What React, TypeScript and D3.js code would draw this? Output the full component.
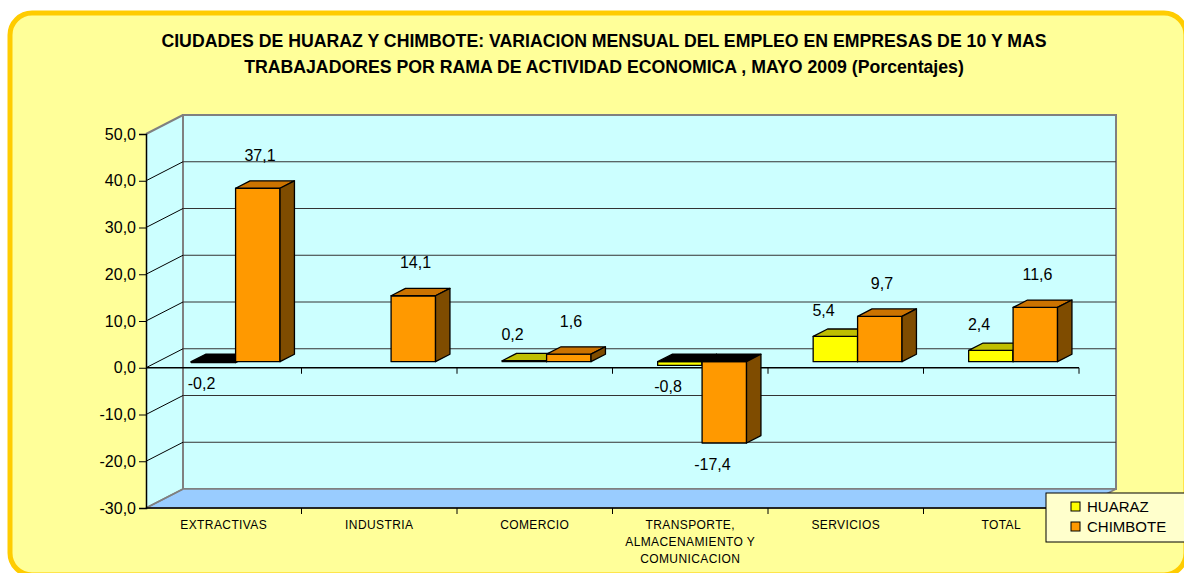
import React, { useEffect, useRef } from 'react';
import * as d3 from 'd3';

// data
const titleLines = [
  'CIUDADES DE HUARAZ Y CHIMBOTE: VARIACION MENSUAL DEL EMPLEO EN EMPRESAS DE 10 Y MAS',
  'TRABAJADORES POR RAMA DE ACTIVIDAD ECONOMICA , MAYO 2009 (Porcentajes)',
];
const categories = ['EXTRACTIVAS', 'INDUSTRIA', 'COMERCIO', 'TRANSPORTE', 'SERVICIOS', 'TOTAL'];
const categoryLabels = [
  ['EXTRACTIVAS'],
  ['INDUSTRIA'],
  ['COMERCIO'],
  ['TRANSPORTE,', 'ALMACENAMIENTO Y', 'COMUNICACION'],
  ['SERVICIOS'],
  ['TOTAL'],
];
const seriesNames = ['HUARAZ', 'CHIMBOTE'];
const huarazValues: (number | null)[] = [-0.2, null, 0.2, -0.8, 5.4, 2.4];
const chimboteValues: (number | null)[] = [37.1, 14.1, 1.6, -17.4, 9.7, 11.6];
const yTicks = [-30, -20, -10, 0, 10, 20, 30, 40, 50];

const FONT = '"Liberation Sans", Arial, sans-serif';

const colors: Record<string, { front: string; top: string; side: string; dx: number; dy: number }> = {
  HUARAZ: { front: '#FFFF00', top: '#BFBF00', side: '#999900', dx: 0, dy: -26 },
  CHIMBOTE: { front: '#FF9900', top: '#CC7300', side: '#7F4C00', dx: 14, dy: -33 },
};

// comma decimals, plain hyphen for negatives
const fmt = (v: number) => d3.format('.1f')(v).replace('.', ',').replace('\u2212', '-');

export default function App() {
  const svgRef = useRef<SVGSVGElement>(null);

  useEffect(() => {
    if (!svgRef.current) return;
    const svg = d3.select(svgRef.current);
    svg.selectAll('*').remove();

    // chart frame
    svg.append('rect')
      .attr('x', 10).attr('y', 13)
      .attr('width', 1176).attr('height', 562)
      .attr('rx', 22)
      .attr('fill', '#FFFF99')
      .attr('stroke', '#FFCC00')
      .attr('stroke-width', 5);

    // title
    titleLines.forEach((t, i) => {
      svg.append('text')
        .attr('x', 604)
        .attr('y', 47 + i * 26)
        .attr('text-anchor', 'middle')
        .attr('font-family', FONT)
        .attr('font-weight', 'bold')
        .attr('font-size', 17.7)
        .attr('fill', '#000')
        .text(t);
    });

    // front plane geometry, plus the depth vector of the 3D box
    const left = 146;
    const right = 1079;
    const DX = 37;
    const DY = -19;
    const zF = 0.32;
    const zB = 0.71;

    const y = d3.scaleLinear().domain([-30, 50]).range([508, 134]);
    const x0 = d3.scaleBand().domain(categories).range([left, right]).padding(0);
    const x1 = d3.scaleBand().domain(seriesNames).range([0, x0.bandwidth()])
      .paddingInner(0).paddingOuter(0.75);

    const yTop = y(50);
    const yBot = y(-30);

    // left side wall
    svg.append('polygon')
      .attr('points', [[left, yTop], [left + DX, yTop + DY], [left + DX, yBot + DY], [left, yBot]].join(' '))
      .attr('fill', '#CCFFFF');

    // back wall
    svg.append('rect')
      .attr('x', left + DX).attr('y', yTop + DY)
      .attr('width', right - left).attr('height', yBot - yTop)
      .attr('fill', '#CCFFFF')
      .attr('stroke', '#808080')
      .attr('stroke-width', 2);

    // floor
    svg.append('polygon')
      .attr('points', [[left, yBot], [left + DX, yBot + DY], [right + DX, yBot + DY], [right, yBot]].join(' '))
      .attr('fill', '#99CCFF')
      .attr('stroke', '#808080')
      .attr('stroke-width', 1.5);

    // left wall top edge
    svg.append('line')
      .attr('x1', left).attr('y1', yTop)
      .attr('x2', left + DX).attr('y2', yTop + DY)
      .attr('stroke', '#808080').attr('stroke-width', 2);

    // gridlines
    yTicks.filter(t => t > -30 && t < 50).forEach(t => {
      svg.append('line')
        .attr('x1', left + DX).attr('x2', right + DX)
        .attr('y1', y(t) + DY).attr('y2', y(t) + DY)
        .attr('stroke', '#333').attr('stroke-width', 1);
      svg.append('line')
        .attr('x1', left).attr('x2', left + DX)
        .attr('y1', y(t)).attr('y2', y(t) + DY)
        .attr('stroke', '#000').attr('stroke-width', 1);
    });
    svg.append('line')
      .attr('x1', left).attr('x2', left + DX)
      .attr('y1', yBot).attr('y2', yBot + DY)
      .attr('stroke', '#808080').attr('stroke-width', 1.5);

    // y axis
    const yAxis = d3.axisLeft(y)
      .tickValues(yTicks)
      .tickSize(7)
      .tickFormat(d => fmt(d as number));
    const yg = svg.append('g')
      .attr('transform', `translate(${left},0)`)
      .call(yAxis);
    yg.select('.domain').attr('stroke', '#000').attr('stroke-width', 1.5);
    yg.selectAll('line').attr('stroke', '#000');
    yg.selectAll('text')
      .attr('font-family', FONT)
      .attr('font-size', 16)
      .attr('fill', '#000')
      .attr('x', -10);

    // category axis lines at zero and at the floor
    const boundaries = categories.map(c => (x0(c) as number) + x0.bandwidth());
    [0, -30].forEach(v => {
      svg.append('line')
        .attr('x1', left).attr('x2', right)
        .attr('y1', y(v)).attr('y2', y(v))
        .attr('stroke', '#000').attr('stroke-width', 1.5);
      boundaries.forEach(b => {
        svg.append('line')
          .attr('x1', b).attr('x2', b)
          .attr('y1', y(v)).attr('y2', y(v) + 6)
          .attr('stroke', '#000').attr('stroke-width', 1);
      });
    });

    // category labels
    categories.forEach((c, i) => {
      const cx = (x0(c) as number) + x0.bandwidth() / 2;
      categoryLabels[i].forEach((line, j) => {
        svg.append('text')
          .attr('x', cx)
          .attr('y', 529 + j * 17)
          .attr('text-anchor', 'middle')
          .attr('font-family', FONT)
          .attr('font-size', 12)
          .attr('letter-spacing', 0.4)
          .attr('fill', '#000')
          .text(line);
      });
    });

    // 3D bars
    const seriesValues: Record<string, (number | null)[]> = {
      HUARAZ: huarazValues,
      CHIMBOTE: chimboteValues,
    };
    const ox = zF * DX, oy = zF * DY, bx = zB * DX, by = zB * DY;

    categories.forEach((c, i) => {
      seriesNames.forEach(s => {
        const v = seriesValues[s][i];
        if (v === null) return;
        const col = colors[s];
        const xa = (x0(c) as number) + (x1(s) as number);
        const xb = xa + x1.bandwidth();
        const yt = y(Math.max(v, 0));
        const yb = y(Math.min(v, 0));
        const g = svg.append('g')
          .attr('stroke', '#000')
          .attr('stroke-width', 1.3)
          .attr('stroke-linejoin', 'round');
        // front
        g.append('polygon')
          .attr('points', [[xa + ox, yt + oy], [xb + ox, yt + oy], [xb + ox, yb + oy], [xa + ox, yb + oy]].join(' '))
          .attr('fill', col.front);
        // top (the zero end of a negative bar shows dark)
        g.append('polygon')
          .attr('points', [[xa + ox, yt + oy], [xb + ox, yt + oy], [xb + bx, yt + by], [xa + bx, yt + by]].join(' '))
          .attr('fill', v >= 0 ? col.top : '#000');
        // side
        g.append('polygon')
          .attr('points', [[xb + ox, yt + oy], [xb + bx, yt + by], [xb + bx, yb + by], [xb + ox, yb + oy]].join(' '))
          .attr('fill', col.side);

        // value label: above the top for positives, below the front for negatives
        const mid = (xa + xb) / 2;
        const lx = v >= 0 ? mid + col.dx : mid;
        const ly = v >= 0 ? yt + oy + col.dy : yb + oy + 21;
        svg.append('text')
          .attr('x', lx)
          .attr('y', ly + 5.5)
          .attr('text-anchor', 'middle')
          .attr('font-family', FONT)
          .attr('font-size', 16)
          .attr('fill', '#000')
          .text(fmt(v));
      });
    });

    // legend
    const lg = svg.append('g').attr('transform', 'translate(1046,493)');
    lg.append('rect')
      .attr('width', 150).attr('height', 49)
      .attr('fill', '#FFFFCC')
      .attr('stroke', '#000').attr('stroke-width', 1);
    seriesNames.forEach((s, i) => {
      lg.append('rect')
        .attr('x', 25).attr('y', 9 + i * 20)
        .attr('width', 9).attr('height', 9)
        .attr('fill', colors[s].front)
        .attr('stroke', '#000').attr('stroke-width', 1);
      lg.append('text')
        .attr('x', 41).attr('y', 19 + i * 20)
        .attr('font-family', FONT)
        .attr('font-size', 15)
        .attr('fill', '#000')
        .text(s);
    });
  }, []);

  return (
    <svg
      ref={svgRef}
      width={1184}
      height={573}
      style={{ position: 'absolute', left: 0, top: 0, background: '#fff' }}
    />
  );
}
